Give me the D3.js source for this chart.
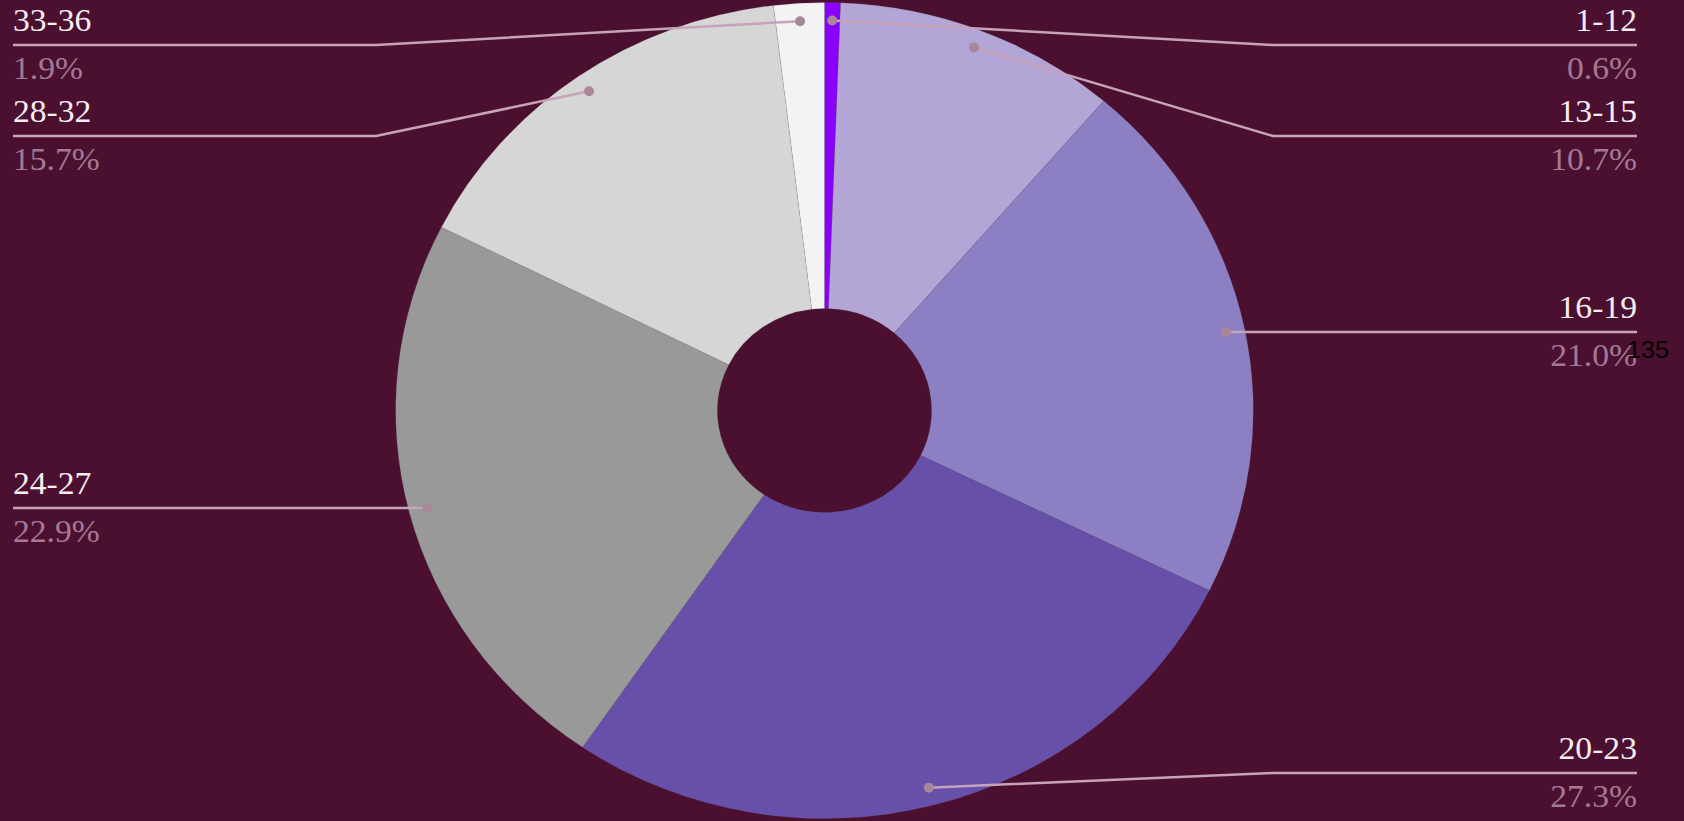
<!DOCTYPE html>
<html>
<head>
<meta charset="utf-8">
<script src="https://cdn.jsdelivr.net/npm/d3@7"></script>
<style>
  html, body { margin: 0; padding: 0; background: #4b1030; }
  svg { display: block; }
</style>
</head>
<body>
<svg id="chart" width="1684" height="821"></svg>
<script>
// Age groups and their share of respondents (%)
const categories = ["1-12", "13-15", "16-19", "20-23", "24-27", "28-32", "33-36"];
const shares = [0.6, 10.7, 21.0, 27.3, 22.9, 15.7, 1.9];
const sliceColors = ["#8b00fc", "#b3a5d6", "#8d7fc3", "#6750a9", "#999999", "#d6d6d6", "#f3f2f4"];
const totalLabel = "135";

const W = 1684, H = 821;
const cx = 824.5, cy = 410.5;
const stretchX = 1.051;           // the whole drawing is slightly wider than tall
const outerR = 408, innerR = 102, dotR = 390;

const svg = d3.select("#chart");
svg.append("rect").attr("width", W).attr("height", H).attr("fill", "#4b1030");

const data = categories.map((c, i) => ({ name: c, value: shares[i], color: sliceColors[i] }));

const pie = d3.pie().sort(null).value(d => d.value).startAngle(0).endAngle(2 * Math.PI);
const arcs = pie(data);
const arc = d3.arc().innerRadius(innerR).outerRadius(outerR);

const g = svg.append("g").attr("transform", `translate(${cx},${cy}) scale(${stretchX},1)`);
g.selectAll("path.slice")
  .data(arcs)
  .join("path")
  .attr("class", "slice")
  .attr("d", arc)
  .attr("fill", d => d.data.color)
  .attr("stroke", "rgba(110,110,110,0.25)")
  .attr("stroke-width", 0.6);

// Anchor points on each slice for the leader lines
const points = arcs.map(a => {
  const mid = (a.startAngle + a.endAngle) / 2;
  return {
    name: a.data.name,
    value: a.data.value,
    x: cx + stretchX * dotR * Math.sin(mid),
    y: cy - dotR * Math.cos(mid),
    side: Math.sin(mid) >= 0 ? "right" : "left"
  };
});

// Stack the labels on each side so they do not overlap
const minY = 45, maxY = 773, gap = 91;
["left", "right"].forEach(side => {
  const list = points.filter(p => p.side === side).sort((a, b) => a.y - b.y);
  let prev = -Infinity;
  list.forEach(p => {
    let y = Math.max(minY, Math.min(maxY, p.y));
    y = Math.max(y, prev + gap);
    p.ly = y;
    prev = y;
  });
});

const bendX = { left: 376, right: 1273 };
const edgeX = { left: 13, right: 1637 };
const fmt = d3.format(".1f");

// Text drawn with the same horizontal stretch as the donut
function stretchedText(parent, x, y, anchor) {
  return parent.append("text")
    .attr("transform", `translate(${x},${y}) scale(${stretchX},1)`)
    .attr("text-anchor", anchor);
}

const labels = svg.append("g");
points.forEach(p => {
  const line = d3.line()([[p.x, p.y], [bendX[p.side], p.ly], [edgeX[p.side], p.ly]]);
  labels.append("path")
    .attr("d", line)
    .attr("fill", "none")
    .attr("stroke", "#c7a3b9")
    .attr("stroke-width", 2.5);
  labels.append("circle")
    .attr("cx", p.x).attr("cy", p.y).attr("r", 5)
    .attr("fill", "#a9879a");
  const anchor = p.side === "left" ? "start" : "end";
  stretchedText(labels, edgeX[p.side], p.ly - 14, anchor)
    .attr("font-family", "'Liberation Serif', 'DejaVu Serif', serif")
    .attr("font-size", 32)
    .attr("fill", "#f6eef2")
    .text(p.name);
  stretchedText(labels, edgeX[p.side], p.ly + 34, anchor)
    .attr("font-family", "'Liberation Serif', 'DejaVu Serif', serif")
    .attr("font-size", 32)
    .attr("fill", "#a47996")
    .text(fmt(p.value) + "%");
});

stretchedText(svg, 1627, 358, "start")
  .attr("font-family", "'Liberation Sans', Arial, sans-serif")
  .attr("font-size", 24)
  .attr("fill", "#000")
  .text(totalLabel);
</script>
</body>
</html>
